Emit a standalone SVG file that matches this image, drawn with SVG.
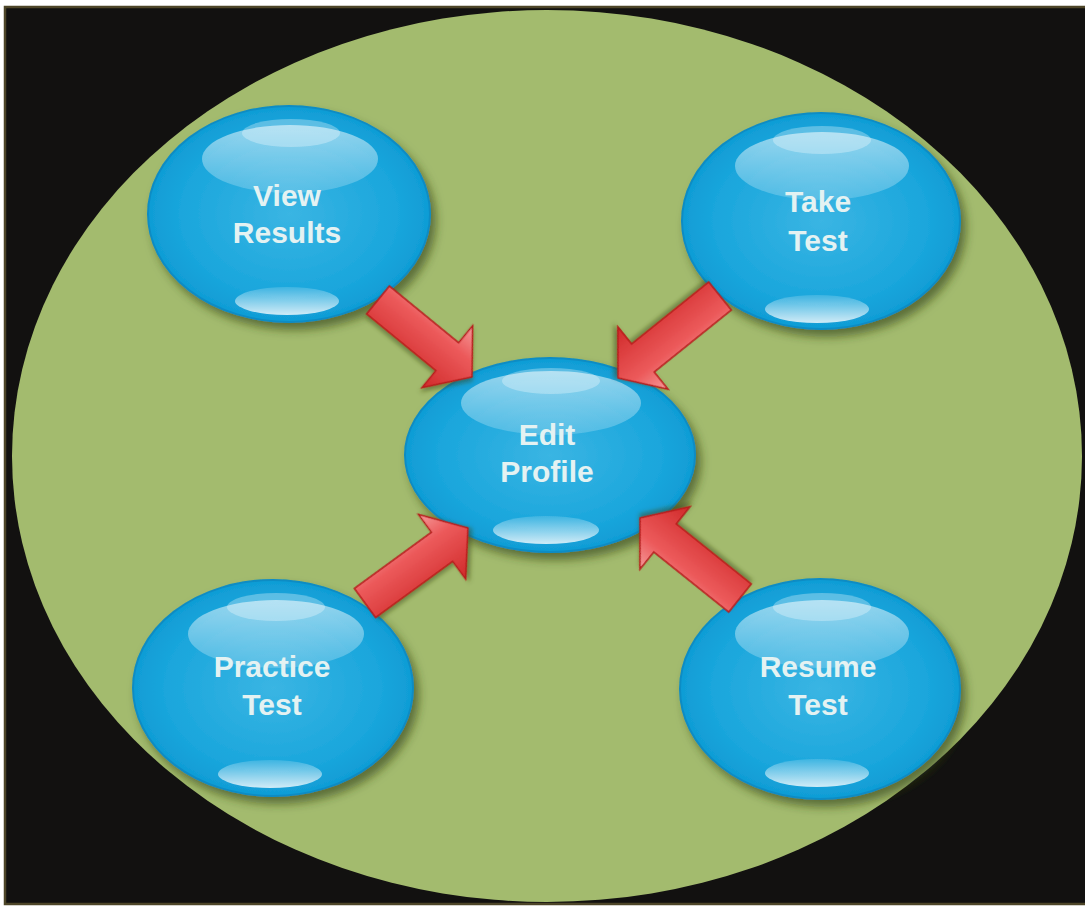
<svg xmlns="http://www.w3.org/2000/svg" width="1085" height="907" viewBox="0 0 1085 907">
<defs>
<style>
.lbl{font-family:"Liberation Sans",Arial,sans-serif;font-weight:bold;font-size:30px;fill:#e4f2f2;text-anchor:middle}
.body{fill:url(#gBody);stroke:#0b8cc4;stroke-width:2;filter:url(#shadow)}
.hiTop{fill:url(#gTop)}
.hiTop2{fill:#ffffff;fill-opacity:0.3}
.hiBot{fill:url(#gBot)}
.arrow{fill:url(#gArrow);stroke:#b81a1a;stroke-width:1.5;stroke-linejoin:miter;filter:url(#ashadow)}
</style>
<radialGradient id="gBody" cx="0.5" cy="0.5" r="0.55">
<stop offset="0" stop-color="#3ab5e3"/>
<stop offset="0.7" stop-color="#1aa6dc"/>
<stop offset="1" stop-color="#0b98d2"/>
</radialGradient>
<linearGradient id="gTop" x1="0" y1="0" x2="0" y2="1">
<stop offset="0" stop-color="#ffffff" stop-opacity="0.55"/>
<stop offset="1" stop-color="#ffffff" stop-opacity="0.18"/>
</linearGradient>
<linearGradient id="gBot" x1="0" y1="0" x2="0" y2="1">
<stop offset="0" stop-color="#ffffff" stop-opacity="0.15"/>
<stop offset="1" stop-color="#ffffff" stop-opacity="0.8"/>
</linearGradient>
<linearGradient id="gArrow" x1="0" y1="0" x2="0" y2="1">
<stop offset="0" stop-color="#f59a9a"/>
<stop offset="0.35" stop-color="#ec5a5b"/>
<stop offset="1" stop-color="#d02a2a"/>
</linearGradient>
<filter id="shadow" x="-20%" y="-20%" width="140%" height="140%">
<feDropShadow dx="5" dy="7" stdDeviation="5" flood-color="#2e3a14" flood-opacity="0.6"/>
</filter>
<filter id="ashadow" x="-20%" y="-20%" width="140%" height="140%">
<feDropShadow dx="2" dy="3" stdDeviation="2" flood-color="#3a4418" flood-opacity="0.5"/>
</filter>
</defs>
<rect x="0" y="0" width="1085" height="907" fill="#ffffff"/>
<rect x="5" y="7" width="1085" height="897" fill="#121110" stroke="#4d4528" stroke-width="2.5"/>
<ellipse cx="547" cy="456" rx="535" ry="446" fill="#a3bb6e"/>

<g id="node-view-results">
<ellipse class="body" cx="289" cy="214" rx="141" ry="108"/>
<ellipse class="hiTop" cx="290" cy="159" rx="88" ry="34"/>
<ellipse class="hiTop2" cx="291" cy="133" rx="49" ry="14"/>
<ellipse class="hiBot" cx="287" cy="301" rx="52" ry="14"/>
<text class="lbl" x="287" y="206">View</text>
<text class="lbl" x="287" y="243">Results</text>
</g>

<g id="node-take-test">
<ellipse class="body" cx="821" cy="221" rx="139" ry="108"/>
<ellipse class="hiTop" cx="822" cy="166" rx="87" ry="34"/>
<ellipse class="hiTop2" cx="822" cy="140" rx="49" ry="14"/>
<ellipse class="hiBot" cx="817" cy="309" rx="52" ry="14"/>
<text class="lbl" x="818" y="212">Take</text>
<text class="lbl" x="818" y="251">Test</text>
</g>

<g id="node-edit-profile">
<ellipse class="body" cx="550" cy="455" rx="145" ry="97"/>
<ellipse class="hiTop" cx="551" cy="403" rx="90" ry="32"/>
<ellipse class="hiTop2" cx="551" cy="381" rx="49" ry="13"/>
<ellipse class="hiBot" cx="546" cy="530" rx="53" ry="14"/>
<text class="lbl" x="547" y="445">Edit</text>
<text class="lbl" x="547" y="482">Profile</text>
</g>

<g id="node-practice-test">
<ellipse class="body" cx="273" cy="688" rx="140" ry="108"/>
<ellipse class="hiTop" cx="276" cy="634" rx="88" ry="34"/>
<ellipse class="hiTop2" cx="276" cy="607" rx="49" ry="14"/>
<ellipse class="hiBot" cx="270" cy="774" rx="52" ry="14"/>
<text class="lbl" x="272" y="677">Practice</text>
<text class="lbl" x="272" y="715">Test</text>
</g>

<g id="node-resume-test">
<ellipse class="body" cx="820" cy="689" rx="140" ry="110"/>
<ellipse class="hiTop" cx="822" cy="634" rx="87" ry="34"/>
<ellipse class="hiTop2" cx="822" cy="607" rx="49" ry="14"/>
<ellipse class="hiBot" cx="817" cy="773" rx="52" ry="14"/>
<text class="lbl" x="818" y="677">Resume</text>
<text class="lbl" x="818" y="715">Test</text>
</g>

<g id="connectors">
<path class="arrow" transform="translate(378,300) rotate(39.3)" d="M0,-18 H89.5 V-40 L121.5,0 L89.5,40 V18 H0 Z"/>
<path class="arrow" transform="translate(720,296) rotate(141.2)" d="M0,-18 H98.9 V-40 L130.9,0 L98.9,40 V18 H0 Z"/>
<path class="arrow" transform="translate(365,603) rotate(-36.1)" d="M0,-18 H95.4 V-40 L127.4,0 L95.4,40 V18 H0 Z"/>
<path class="arrow" transform="translate(740,598) rotate(-141.3)" d="M0,-18 H96.1 V-40 L128.1,0 L96.1,40 V18 H0 Z"/>
</g>
</svg>
